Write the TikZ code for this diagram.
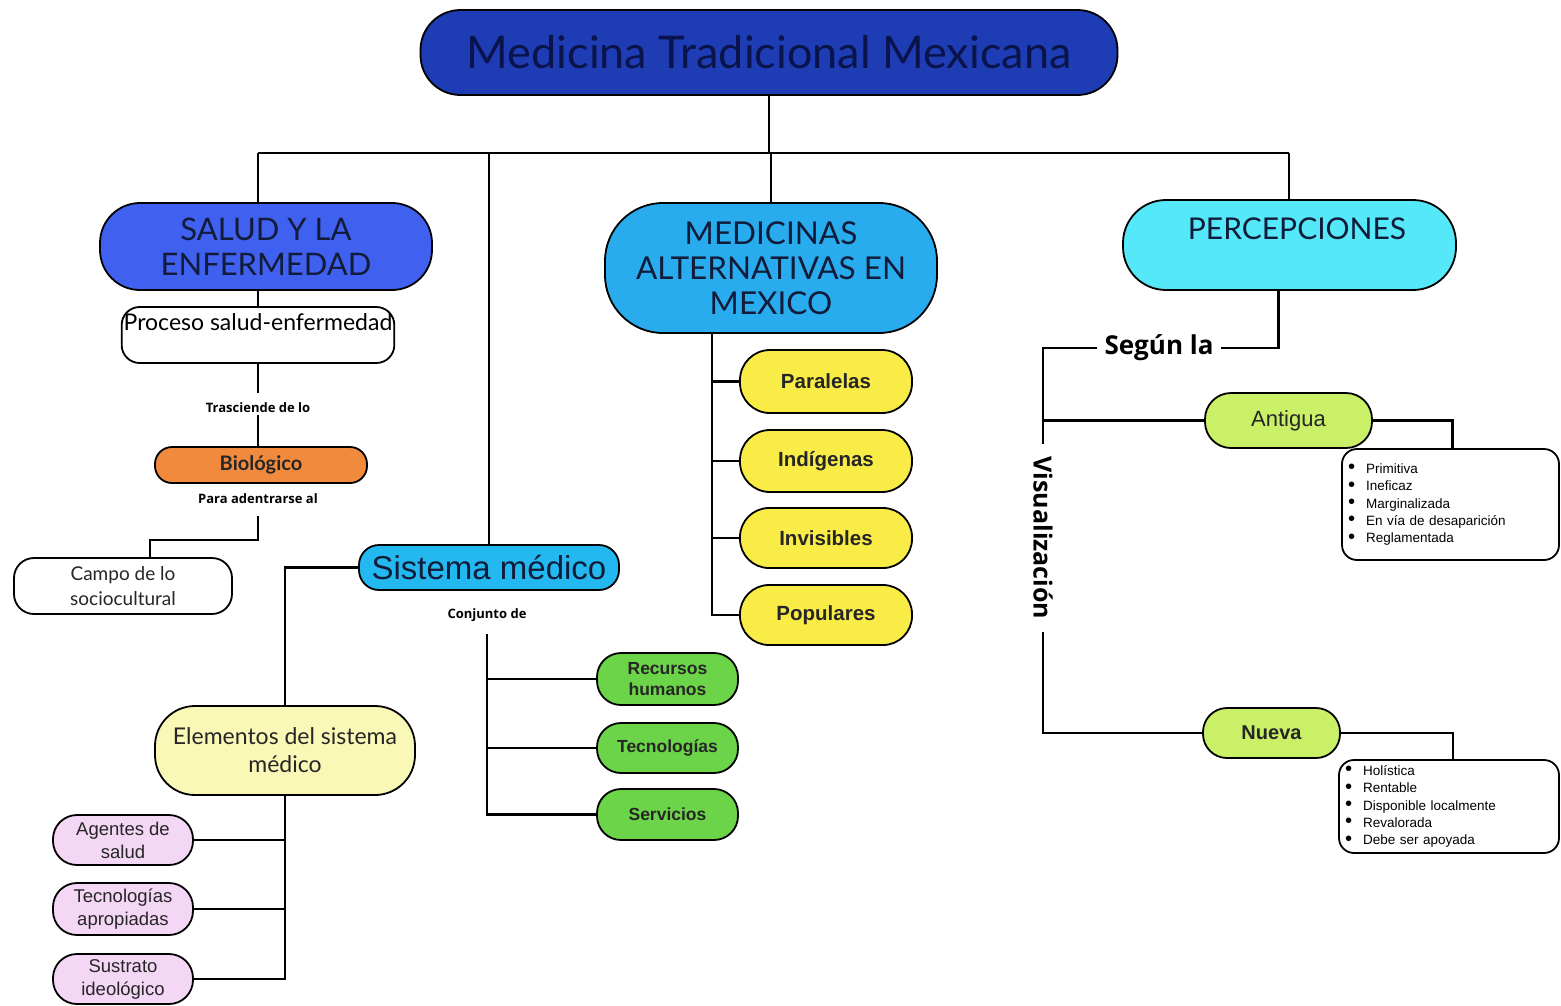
\documentclass[tikz,border=0pt]{standalone}
\usepackage{fontspec}
\setmainfont{Liberation Sans}
\newfontfamily\latof{Lato}
\newfontfamily\opsf{Open Sans}
\usetikzlibrary{calc}
\definecolor{cTitle}{RGB}{30,60,180}
\definecolor{cSalud}{RGB}{64,96,240}
\definecolor{cMed}{RGB}{40,172,238}
\definecolor{cPer}{RGB}{85,232,248}
\definecolor{cSis}{RGB}{35,185,240}
\definecolor{cOr}{RGB}{242,138,62}
\definecolor{cYel}{RGB}{250,236,70}
\definecolor{cGrn}{RGB}{108,212,72}
\definecolor{cLime}{RGB}{202,240,104}
\definecolor{cLY}{RGB}{250,248,182}
\definecolor{cPink}{RGB}{244,214,245}
\definecolor{tTitle}{RGB}{10,20,75}
\definecolor{tHead}{RGB}{18,28,58}
\newcommand\itm[1]{\makebox[18pt][l]{\raisebox{-0.5pt}{\scalebox{1.5}{\textbullet}}}#1}
\begin{document}
\begin{tikzpicture}[x=1pt,y=-1pt,
  conn/.style={draw=black, line width=2.2pt, line join=miter},
  box/.style={draw=black, line width=1.8pt, align=center, inner sep=2pt, text=tHead},
  lbl/.style={font=\opsf\bfseries\fontsize{13}{15}\selectfont, inner sep=2pt},
  listbox/.style={box, fill=white, rounded corners=15pt, align=left, inner xsep=6pt,
     text width=205pt, text=black, font=\fontsize{13.5}{17.4}\selectfont}]
\useasboundingbox (0,0) rectangle (1561,1005);
\fill[white] (0,0) rectangle (1561,1005);

% main nodes
\node[box, fill=cTitle, minimum width=697pt, minimum height=85pt, rounded corners=40pt,
  font=\latof\fontsize{45}{52}\selectfont, text=tTitle] (title) at (769,52.5) {Medicina Tradicional Mexicana};

\node[box, fill=cSalud, minimum width=332pt, minimum height=87pt, rounded corners=40pt,
  font=\latof\fontsize{31}{35}\selectfont] (salud) at (266,246.5) {SALUD Y LA\\ENFERMEDAD};

\node[box, fill=cMed, minimum width=332pt, minimum height=130pt, rounded corners=58pt,
  font=\latof\fontsize{31.5}{35}\selectfont] (medicinas) at (771,268) {MEDICINAS\\ALTERNATIVAS EN\\MEXICO};

\node[box, fill=cPer, minimum width=333pt, minimum height=90pt, rounded corners=43pt,
  font=\latof\fontsize{30}{34}\selectfont] (percepciones) at (1289.5,245) {\hspace*{15pt}PERCEPCIONES\\[-12pt]\strut};

% left branch
\node[box, fill=white, minimum width=268pt, minimum height=56pt, rounded corners=18pt,
  font=\latof\fontsize{23}{27}\selectfont, text=black] (proceso) at (258,335) {Proceso salud-enfermedad\\[-10pt]\strut};
\node[lbl] (trasc) at (258,408) {Trasciende de lo};
\node[box, fill=cOr, minimum width=212pt, minimum height=36pt, rounded corners=17pt,
  font=\latof\bfseries\fontsize{20}{24}\selectfont, text=black!85] (bio) at (261,465) {Biológico};
\node[lbl] (para) at (258,499) {Para adentrarse al};
\node[box, fill=white, minimum width=218pt, minimum height=56pt, rounded corners=20pt,
  font=\latof\fontsize{19}{25}\selectfont, text=black!85] (campo) at (123,586) {Campo de lo\\sociocultural};

% sistema medico
\node[box, fill=cSis, minimum width=260pt, minimum height=45pt, rounded corners=20pt,
  font=\fontsize{33}{38}\selectfont, text=tHead] (sistema) at (489,567.5) {Sistema médico};
\node[lbl] (conj) at (487,615) {Conjunto de};
\node[box, fill=cGrn, minimum width=141pt, minimum height=52pt, rounded corners=24pt,
  font=\bfseries\fontsize{17.5}{21}\selectfont, text=black!85] (recursos) at (667.5,679) {Recursos\\humanos};
\node[box, fill=cGrn, minimum width=141pt, minimum height=50pt, rounded corners=24pt,
  font=\bfseries\fontsize{17.5}{21}\selectfont, text=black!85] (tecno) at (667.5,748) {Tecnologías};
\node[box, fill=cGrn, minimum width=141pt, minimum height=51pt, rounded corners=24pt,
  font=\bfseries\fontsize{17.5}{21}\selectfont, text=black!85] (servicios) at (667.5,814.5) {Servicios};

\node[box, fill=cLY, minimum width=260pt, minimum height=89pt, rounded corners=40pt,
  font=\latof\fontsize{23}{28}\selectfont, text=black!85] (elementos) at (285,750.5) {Elementos del sistema\\médico};
\node[box, fill=cPink, minimum width=140pt, minimum height=50pt, rounded corners=24pt,
  font=\fontsize{18.5}{23}\selectfont, text=black!85] (agentes) at (123,840) {Agentes de\\salud};
\node[box, fill=cPink, minimum width=140pt, minimum height=52pt, rounded corners=24pt,
  font=\fontsize{18.5}{23}\selectfont, text=black!85] (tecap) at (123,909) {Tecnologías\\apropiadas};
\node[box, fill=cPink, minimum width=140pt, minimum height=50pt, rounded corners=24pt,
  font=\fontsize{18.5}{23}\selectfont, text=black!85] (sustrato) at (123,979) {Sustrato\\ideológico};

% medicinas alternativas
\node[box, fill=cYel, minimum width=172pt, minimum height=63pt, rounded corners=30pt,
  font=\bfseries\fontsize{20.5}{24}\selectfont, text=black!85] (paralelas) at (826,381.5) {Paralelas};
\node[box, fill=cYel, minimum width=172pt, minimum height=62pt, rounded corners=30pt,
  font=\bfseries\fontsize{20.5}{24}\selectfont, text=black!85] (indigenas) at (826,461) {Indígenas};
\node[box, fill=cYel, minimum width=172pt, minimum height=60pt, rounded corners=29pt,
  font=\bfseries\fontsize{20.5}{24}\selectfont, text=black!85] (invisibles) at (826,538) {Invisibles};
\node[box, fill=cYel, minimum width=172pt, minimum height=60pt, rounded corners=29pt,
  font=\bfseries\fontsize{20.5}{24}\selectfont, text=black!85] (populares) at (826,615) {Populares};

% percepciones
\node[font=\opsf\bfseries\fontsize{26}{30}\selectfont, inner xsep=7pt, inner ysep=2pt] (segun) at (1159,348) {Según la};
\node[font=\opsf\bfseries\fontsize{25}{29}\selectfont, rotate=-90, inner xsep=12pt, inner ysep=2pt] (visual) at (1043,538) {Visualización};
\node[box, fill=cLime, minimum width=167pt, minimum height=55pt, rounded corners=26pt,
  font=\fontsize{22}{26}\selectfont, text=black!85] (antigua) at (1288.5,420.5) {Antigua};
\node[box, fill=cLime, minimum width=137pt, minimum height=50pt, rounded corners=24pt,
  font=\bfseries\fontsize{20}{24}\selectfont, text=black!85] (nueva) at (1271.5,733) {Nueva};
\node[listbox, minimum height=111pt] (lista1) at (1450.5,504.5)
  {\itm{Primitiva}\\\itm{Ineficaz}\\\itm{Marginalizada}\\\itm{En vía de desaparición}\\\itm{Reglamentada}};
\node[listbox, minimum height=93pt, text width=208pt] (lista2) at (1449,806.5)
  {\itm{Holística}\\\itm{Rentable}\\\itm{Disponible localmente}\\\itm{Revalorada}\\\itm{Debe ser apoyada}};

% connectors: top bus
\coordinate (hL) at (258,153);
\coordinate (hR) at (1289,153);
\draw[conn] (hL) -- (hR);
\draw[conn] (title.south) -- (title.south |- hL);
\draw[conn] (hL) -- (hL |- salud.north);
\draw[conn] (sistema.north |- hL) -- (sistema.north);
\draw[conn] (medicinas.north |- hL) -- (medicinas.north);
\draw[conn] (hR) -- (hR |- percepciones.north);

% left chain
\draw[conn] (proceso.north |- salud.south) -- (proceso.north);
\draw[conn] (proceso.south) -- ([yshift=8pt]trasc.north);
\draw[conn] (trasc.south) -- (trasc.south |- bio.north);
\coordinate (pc) at ([yshift=-10pt]para.south);
\draw[conn] (pc) -- (pc |- 0,540) -| ([xshift=27pt]campo.north);

% sistema medico
\draw[conn] (sistema.west) -| (elementos.north);
\coordinate (cj) at ([yshift=-10pt]conj.south);
\draw[conn] (cj) |- (servicios.west);
\draw[conn] (cj |- recursos.west) -- (recursos.west);
\draw[conn] (cj |- tecno.west) -- (tecno.west);
\draw[conn] (elementos.south) |- (sustrato.east);
\draw[conn] (elementos.south |- agentes.east) -- (agentes.east);
\draw[conn] (elementos.south |- tecap.east) -- (tecap.east);

% medicinas
\coordinate (mv) at ([xshift=-59pt]medicinas.south);
\draw[conn] (mv) |- (populares.west);
\draw[conn] (mv |- paralelas.west) -- (paralelas.west);
\draw[conn] (mv |- indigenas.west) -- (indigenas.west);
\draw[conn] (mv |- invisibles.west) -- (invisibles.west);

% percepciones
\draw[conn] ([xshift=-11pt]percepciones.south) |- (segun.east);
\draw[conn] (segun.west) -| (visual.west);
\draw[conn] (visual.west |- antigua.west) -- (antigua.west);
\draw[conn] (visual.east) |- (nueva.west);
\draw[conn] (antigua.east) -| ([xshift=2pt]lista1.north);
\draw[conn] (nueva.east) -| ([xshift=4pt]lista2.north);
\end{tikzpicture}
\end{document}
